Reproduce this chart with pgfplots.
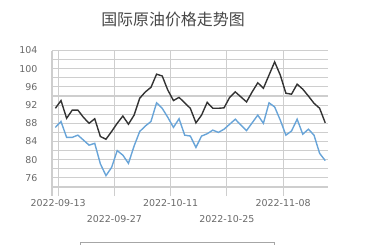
\documentclass[border=0pt]{standalone}
\usepackage{pgfplots}
\pgfplotsset{compat=1.18}
\usepackage{fontspec}
\setmainfont{DejaVu Sans}
\newfontfamily\cjk{Noto Sans CJK SC}
\definecolor{gridgray}{RGB}{206,206,206}
\definecolor{lblgray}{RGB}{105,105,105}
\definecolor{lineblack}{RGB}{51,51,51}
\definecolor{lineblue}{RGB}{104,164,216}
\begin{document}
\begin{tikzpicture}[x=1bp,y=1bp]
\useasboundingbox (0,0) rectangle (370,245);
\clip (0,0) rectangle (370,245);
\node[font=\cjk\fontsize{16}{18}\selectfont, text=black!72] at (173,225.5) {国际原油价格走势图};
\begin{axis}[
  at={(52bp,58bp)}, anchor=south west,
  scale only axis, width=275.5bp, height=136.5bp,
  xmin=-0.6, xmax=48.4, ymin=74, ymax=104,
  axis x line*=bottom, axis y line*=left,
  axis line style={gridgray, line width=1pt, -},
  xtick={-0.6,0.5,10.5,20.5,30.5,40.5},
  xticklabels={{},{2022-09-13},{\raisebox{-16bp}{2022-09-27}},{2022-10-11},{\raisebox{-16bp}{2022-10-25}},{2022-11-08}},
  ytick={76,80,...,104},
  minor ytick={74,78,...,102},
  grid=both,
  major grid style={gridgray, line width=1.1pt},
  minor grid style={gridgray, line width=1.1pt},
  tick align=outside,
  major tick length=9bp,
  xtick style={gridgray, line width=1.1pt},
  ytick style={draw=none},
  minor tick length=0pt,
  tick label style={font=\fontsize{9.5}{11}\selectfont, text=lblgray},
  xticklabel style={anchor=base, yshift=-11bp},
  every y tick label/.append style={anchor=east, xshift=-2bp},
  /pgf/number format/assume math mode=true,
  clip=false,
]
\addplot[lineblack, line width=1.4pt] coordinates {
(0,91.3)(1,93.0)(2,89.1)(3,90.9)(4,90.9)(5,89.3)(6,88.0)(7,89.0)(8,85.1)(9,84.5)
(10,86.2)(11,88.0)(12,89.6)(13,87.8)(14,89.8)(15,93.5)(16,94.9)(17,95.9)(18,98.8)(19,98.4)
(20,95.3)(21,93.0)(22,93.7)(23,92.5)(24,91.3)(25,88.1)(26,89.8)(27,92.6)(28,91.3)(29,91.3)
(30,91.4)(31,93.7)(32,94.9)(33,93.8)(34,92.7)(35,94.9)(36,96.9)(37,95.7)(38,98.6)(39,101.5)
(40,98.6)(41,94.6)(42,94.4)(43,96.6)(44,95.5)(45,94.0)(46,92.4)(47,91.3)(48,88.1)};
\addplot[lineblue, line width=1.4pt] coordinates {
(0,87.1)(1,88.4)(2,84.9)(3,84.9)(4,85.4)(5,84.3)(6,83.2)(7,83.6)(8,79.1)(9,76.5)
(10,78.3)(11,82.0)(12,81.0)(13,79.2)(14,83.0)(15,86.2)(16,87.4)(17,88.4)(18,92.5)(19,91.3)
(20,89.3)(21,87.1)(22,89.0)(23,85.4)(24,85.2)(25,82.7)(26,85.2)(27,85.7)(28,86.5)(29,86.0)
(30,86.7)(31,87.8)(32,88.9)(33,87.6)(34,86.4)(35,88.1)(36,89.8)(37,88.0)(38,92.5)(39,91.6)
(40,88.7)(41,85.4)(42,86.3)(43,88.9)(44,85.6)(45,86.7)(46,85.4)(47,81.4)(48,79.8)};
\end{axis}
\draw[black!35, line width=0.8pt] (80,3) rectangle (274,-10);
\end{tikzpicture}
\end{document}
